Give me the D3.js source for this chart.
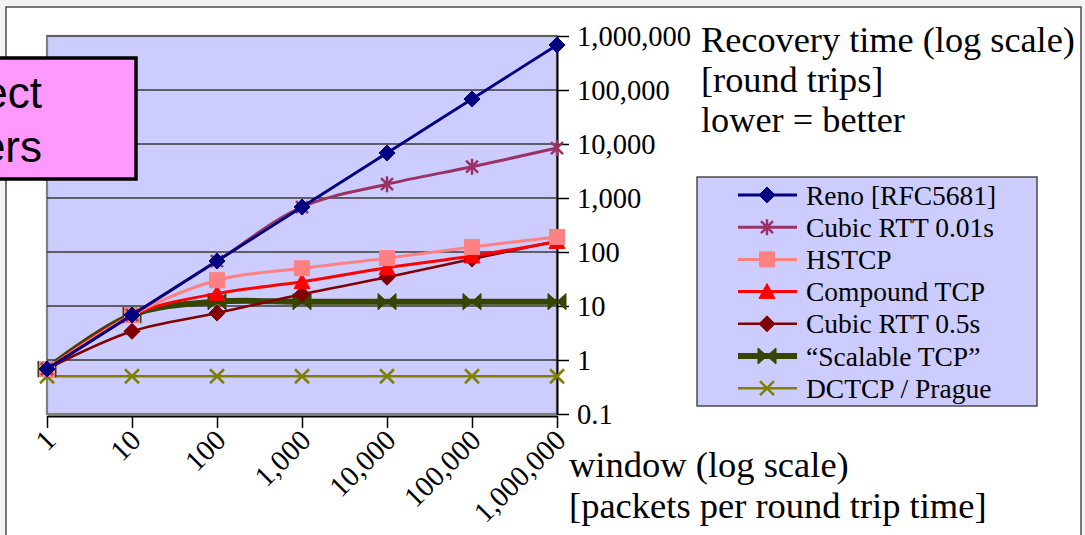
<!DOCTYPE html>
<html><head><meta charset="utf-8">
<script src="https://cdn.jsdelivr.net/npm/d3@7"></script>
<style>
html,body{margin:0;padding:0;background:#f2f2f2;}
svg{display:block;}
</style></head>
<body>
<script>
const windows = [1, 10, 100, 1000, 10000, 100000, 1000000];
const yTicks = [0.1, 1, 10, 100, 1000, 10000, 100000, 1000000];
const seriesNames = ["Reno [RFC5681]", "Cubic RTT 0.01s", "HSTCP", "Compound TCP", "Cubic RTT 0.5s", "\u201cScalable TCP\u201d", "DCTCP / Prague"];
const reno      = [0.68, 6.8, 68, 680, 6800, 68000, 680000];
const cubic001  = [0.68, 6.8, 68, 680, 1800, 3800, 8400];
const hstcp     = [0.68, 6.8, 30, 50, 77, 124, 190];
const compound  = [0.68, 6.8, 17, 28, 51, 84, 155];
const cubic05   = [0.68, 3.4, 7.4, 16.5, 34, 74, 160];
const scalable  = [0.68, 6.8, 12, 12, 12, 12, 12];
const dctcp     = [0.5, 0.5, 0.5, 0.5, 0.5, 0.5, 0.5];
const yTitle = ["Recovery time (log scale)", "[round trips]", "lower = better"];
const xTitle = ["window (log scale)", "[packets per round trip time]"];
const boxText = ["ect", "ers"];

(function () {
const W = 1085, H = 535;
const serif = "'Liberation Serif','Times New Roman',serif";
const svg = d3.select("body").append("svg").attr("width", W).attr("height", H);

// chart panel
svg.append("rect").attr("x", 6).attr("y", 7).attr("width", 1075).attr("height", 540)
  .attr("fill", "#fff").attr("stroke", "#333").attr("stroke-width", 1.3);

const pL = 47, pR = 557, pT = 36, pB = 414;
const x = d3.scaleLog().domain([1, 1e6]).range([pL, pR]);
const y = d3.scaleLog().domain([0.1, 1e6]).range([pB, pT]);

// plot area
svg.append("rect").attr("x", pL).attr("y", pT).attr("width", pR - pL).attr("height", pB - pT)
  .attr("fill", "#ccccff").attr("stroke", "#808080").attr("stroke-width", 2.2);

// gridlines
svg.append("g").selectAll("line").data(yTicks.filter(v => v > 0.1 && v < 1e6)).join("line")
  .attr("x1", pL).attr("x2", pR).attr("y1", d => y(d)).attr("y2", d => y(d))
  .attr("stroke", "#3a3a3a").attr("stroke-width", 1.5);
svg.append("line").attr("x1", pL).attr("x2", pR).attr("y1", y(1e6)).attr("y2", y(1e6))
  .attr("stroke", "#555").attr("stroke-width", 1.5);

// right y axis
const gy = svg.append("g").attr("transform", `translate(${pR},0)`)
  .call(d3.axisRight(y).tickValues(yTicks).tickFormat(d3.format(",")).tickSize(12).tickPadding(8).tickSizeOuter(0));
gy.select(".domain").attr("stroke", "#000").attr("stroke-width", 2);
gy.selectAll(".tick line").attr("stroke", "#000").attr("stroke-width", 1.5);
gy.selectAll(".tick text").attr("font-family", serif).attr("font-size", 28.5).attr("fill", "#000").attr("dy", "0.34em");

// bottom x axis
const gx = svg.append("g").attr("transform", `translate(0,${pB + 2})`)
  .call(d3.axisBottom(x).tickValues(windows).tickFormat(d3.format(",")).tickSize(12).tickSizeOuter(0));
gx.select(".domain").attr("stroke", "#000").attr("stroke-width", 2);
gx.selectAll(".tick line").attr("stroke", "#000").attr("stroke-width", 1.5);
gx.selectAll(".tick text").attr("font-family", serif).attr("font-size", 29).attr("fill", "#000")
  .attr("x", 0).attr("y", 0).attr("dy", 0)
  .attr("transform", "translate(10,26) rotate(-45)").style("text-anchor", "end");

// marker shapes
function markerPath(type, s) {
  switch (type) {
    case "diamond": return `M0,${-s}L${s},0L0,${s}L${-s},0Z`;
    case "square": return `M${-s},${-s}H${s}V${s}H${-s}Z`;
    case "triangle": return `M0,${-s}L${s},${s*0.85}L${-s},${s*0.85}Z`;
    case "bowtie": return `M${-s},${-s*0.9}L0,0L${-s},${s*0.9}Z M${s},${-s*0.9}L0,0L${s},${s*0.9}Z`;
    case "star": { const d = s*0.75; return `M0,${-s}V${s}M${-d},${-d}L${d},${d}M${-d},${d}L${d},${-d}`; }
    case "x": return `M${-s},${-s}L${s},${s}M${-s},${s}L${s},${-s}`;
  }
}
const styles = [
  {vals: reno,     color: "#000080", lw: 2.8, m: "diamond",  ms: 8,  filled: true},
  {vals: cubic001, color: "#993366", lw: 3,   m: "star",     ms: 8,  filled: false},
  {vals: hstcp,    color: "#ff8080", lw: 3,   m: "square",   ms: 7.5,filled: true},
  {vals: compound, color: "#ff0000", lw: 3,   m: "triangle", ms: 8,  filled: true},
  {vals: cubic05,  color: "#800000", lw: 2.6, m: "diamond",  ms: 8,  filled: true},
  {vals: scalable, color: "#364500", lw: 6,   m: "bowtie",   ms: 9,  filled: true},
  {vals: dctcp,    color: "#808000", lw: 2.5, m: "x",        ms: 7,  filled: false}
];

const line = d3.line().x(d => x(d[0])).y(d => y(d[1])).curve(d3.curveCatmullRom.alpha(0.5));
const plotG = svg.append("g");
for (let i = styles.length - 1; i >= 0; i--) {
  const s = styles[i];
  const pts = windows.map((w, k) => [w, s.vals[k]]);
  const g = plotG.append("g");
  g.append("path").attr("d", line(pts)).attr("fill", "none").attr("stroke", s.color)
    .attr("stroke-width", s.lw).attr("stroke-linejoin", "round");
  g.selectAll("path.mk").data(pts).join("path").attr("class", "mk")
    .attr("transform", d => `translate(${x(d[0])},${y(d[1])})`)
    .attr("d", markerPath(s.m, s.ms))
    .attr("fill", s.filled ? s.color : "none")
    .attr("stroke", s.color).attr("stroke-width", s.filled ? 1 : 2.5);
}

// legend
const lg = svg.append("g");
lg.append("rect").attr("x", 697).attr("y", 177).attr("width", 340).attr("height", 229)
  .attr("fill", "#ccccff").attr("stroke", "#333").attr("stroke-width", 1.3);
seriesNames.forEach((name, i) => {
  const s = styles[i];
  const cy = 195 + i * 32.2;
  lg.append("line").attr("x1", 738).attr("x2", 797).attr("y1", cy).attr("y2", cy)
    .attr("stroke", s.color).attr("stroke-width", s.lw);
  lg.append("path").attr("transform", `translate(767,${cy})`).attr("d", markerPath(s.m, s.ms))
    .attr("fill", s.filled ? s.color : "none").attr("stroke", s.color).attr("stroke-width", s.filled ? 1 : 2.5);
  lg.append("text").attr("x", 806).attr("y", cy + 9.5).attr("font-family", serif).attr("font-size", 27.5)
    .attr("fill", "#000").text(name);
});

// axis titles
yTitle.forEach((t, i) => {
  svg.append("text").attr("x", 701).attr("y", 52 + i * 40).attr("font-family", serif)
    .attr("font-size", 36.3).attr("fill", "#000").text(t);
});
xTitle.forEach((t, i) => {
  svg.append("text").attr("x", 569).attr("y", 477 + i * 41).attr("font-family", serif)
    .attr("font-size", 36.5).attr("fill", "#000").text(t);
});

// pink callout box (partly off-canvas)
svg.append("rect").attr("x", -60).attr("y", 58).attr("width", 196).attr("height", 121)
  .attr("fill", "#ff99ff").attr("stroke", "#000").attr("stroke-width", 3.5);
boxText.forEach((t, i) => {
  svg.append("text").attr("x", 42).attr("y", 108 + i * 54).attr("text-anchor", "end")
    .attr("font-family", "'Liberation Sans',Arial,sans-serif").attr("font-size", 44)
    .attr("fill", "#000").text(t);
});
})();
</script>
</body></html>
